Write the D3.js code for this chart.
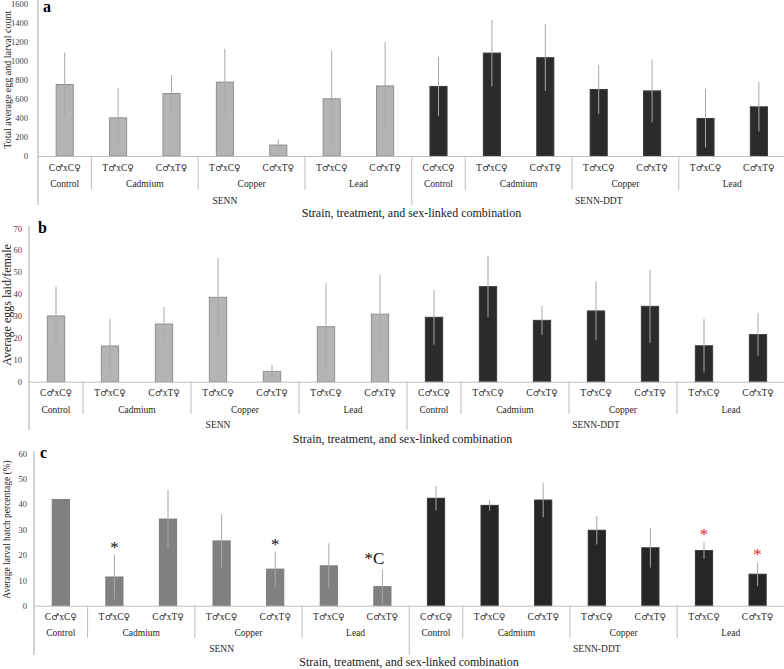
<!DOCTYPE html>
<html><head><meta charset="utf-8">
<script src="https://cdn.jsdelivr.net/npm/d3@7/dist/d3.min.js"></script>
<style>body{margin:0;background:#fff}svg{display:block}</style>
</head><body><svg id="chart" width="784" height="669"></svg>
<script>
// ---- data ----
const crosses = ["C♂xC♀","T♂xC♀","C♂xT♀","T♂xC♀","C♂xT♀","T♂xC♀","C♂xT♀",
                 "C♂xC♀","T♂xC♀","C♂xT♀","T♂xC♀","C♂xT♀","T♂xC♀","C♂xT♀"];
const treatments = ["Control","Cadmium","Copper","Lead","Control","Cadmium","Copper","Lead"];
const treatmentSizes = [1,2,2,2,1,2,2,2];
const strains = ["SENN","SENN-DDT"];
const strainSizes = [7,7];
const countMeans = [750,400,655,775,115,600,735,730,1080,1032,698,683,394,516];
const countErrs  = [335,310,195,350,60,505,460,310,350,350,255,330,305,260];
const countTicks = [0,200,400,600,800,1000,1200,1400,1600];
const eggMeans = [30.0,16.3,26.3,38.5,4.7,25.1,30.8,29.4,43.4,28.0,32.3,34.4,16.4,21.5];
const eggErrs  = [13.4,12.5,7.8,18.0,2.9,20.0,18.0,12.5,14.0,6.6,13.4,16.6,12.2,9.7];
const eggTicks = [0,10,20,30,40,50,60,70];
const hatchMeans = [41.8,11.3,34.1,25.5,14.4,15.7,7.5,42.3,39.5,41.6,29.7,22.8,21.7,12.4];
const hatchErrs  = [0.3,8.8,11.7,10.6,6.9,8.9,6.6,4.8,2.1,6.8,5.6,7.8,3.3,4.7];
const hatchTicks = [0,10,20,30,40,50,60];
const hatchMarks = ["","*","","","*","","*C","","","","","","*","*"];
const hatchMarkRed = [false,false,false,false,false,false,false,false,false,false,false,false,true,true];
const xTitle = "Strain, treatment, and sex-linked combination";

// ---- layout ----
const FONT = "'Liberation Serif','Times New Roman',serif";
const SYMFONT = "'DejaVu Serif','DejaVu Sans',serif";
const panels = [
  {letter:"a", means:countMeans, errs:countErrs, ticks:countTicks, marks:null,
   yTitle:"Total average egg and larval count", yTitleSize:10,
   left:38, band:53.4, top:3.5, base:156, tickGap:10, yTitleX:7,
   letterX:43, letterY:12, catY:168, treatY:184, strainY:201, titleY:213, titleX:411.5,
   grpBottom:190, axisBottom:205, axisTop:0,
   fills:["#b4b4b4","#2b2b2b"], strokes:["#8e8e8e","#3c3c3c"]},
  {letter:"b", means:eggMeans, errs:eggErrs, ticks:eggTicks, marks:null,
   yTitle:"Average eggs laid/female", yTitleSize:12,
   left:29, band:54, top:228.3, base:381.7, tickGap:7, yTitleX:6.5,
   letterX:38, letterY:233, catY:392.7, treatY:409.3, strainY:425, titleY:439, titleX:402.5,
   grpBottom:414, axisBottom:430, axisTop:226,
   fills:["#b4b4b4","#2b2b2b"], strokes:["#8e8e8e","#3c3c3c"]},
  {letter:"c", means:hatchMeans, errs:hatchErrs, ticks:hatchTicks, marks:hatchMarks,
   yTitle:"Average larval hatch percentage (%)", yTitleSize:9.5,
   left:34, band:53.6, top:453.3, base:605.7, tickGap:7, yTitleX:7,
   letterX:40, letterY:458, catY:616.7, treatY:633, strainY:649, titleY:661.7, titleX:409,
   grpBottom:638, axisBottom:655, axisTop:451,
   fills:["#808080","#262626"], strokes:["#7a7a7a","#333333"]}
];

const svg = d3.select("#chart");
const n = crosses.length;
const strainIndex = i => i < strainSizes[0] ? 0 : 1;

panels.forEach(p => {
  const g = svg.append("g");
  const x = d3.scaleBand().domain(d3.range(n))
    .range([p.left, p.left + n * p.band]).paddingInner(0.68).paddingOuter(0.34);
  const y = d3.scaleLinear().domain([0, d3.max(p.ticks)]).range([p.base, p.top]);
  const edge = i => x.range()[0] + i * x.step();

  // y axis labels
  const ya = g.append("g").attr("transform", `translate(${p.left},0)`)
    .call(d3.axisLeft(y).tickValues(p.ticks).tickSize(0).tickPadding(p.tickGap).tickFormat(d3.format("d")));
  ya.select(".domain").remove();
  ya.selectAll("text").attr("font-family", FONT).attr("font-size", 8.5).attr("fill", "#404040");

  // left vertical axis line
  g.append("line").attr("x1", p.left).attr("x2", p.left)
    .attr("y1", p.axisTop).attr("y2", p.axisBottom).attr("stroke", "#a6a6a6").attr("stroke-width", 1);

  // bars
  g.append("g").selectAll("rect").data(p.means).join("rect")
    .attr("x", (d,i) => x(i)).attr("width", x.bandwidth())
    .attr("y", d => y(d)).attr("height", d => y(0) - y(d))
    .attr("fill", (d,i) => p.fills[strainIndex(i)])
    .attr("stroke", (d,i) => p.strokes[strainIndex(i)]).attr("stroke-width", 1);

  // error bars
  g.append("g").selectAll("line").data(p.means).join("line")
    .attr("x1", (d,i) => x(i) + x.bandwidth()/2).attr("x2", (d,i) => x(i) + x.bandwidth()/2)
    .attr("y1", (d,i) => y(Math.max(0, d - p.errs[i]))).attr("y2", (d,i) => y(d + p.errs[i]))
    .attr("stroke", "#a8a8a8").attr("stroke-width", 1);

  // category axis (crosses)
  const catFs = 9.5;
  const xa = g.append("g").attr("transform", `translate(0,${p.base})`)
    .call(d3.axisBottom(x).tickSize(0).tickSizeOuter(0).tickFormat(i => crosses[i]));
  xa.select(".domain").attr("stroke", "#c0c0c0").attr("stroke-width", 1)
    .attr("d", `M${p.left},0.5H${p.left + n * p.band}`);
  xa.selectAll("text").attr("font-family", FONT).attr("font-size", catFs).attr("fill", "#262626")
    .attr("y", p.catY - p.base).attr("dy", "0.35em")
    .each(function() {
      const t = d3.select(this), s = t.text();
      t.text(null);
      for (const ch of s) {
        const sym = ch === "♂" || ch === "♀";
        t.append("tspan").attr("font-family", sym ? SYMFONT : FONT)
          .attr("font-size", sym ? catFs * 0.95 : catFs).text(ch);
      }
    });

  // treatment labels and separators
  let start = 0;
  treatments.forEach((t, k) => {
    const s = start, e = start + treatmentSizes[k];
    g.append("text").attr("x", (edge(s) + edge(e)) / 2).attr("y", p.treatY).attr("dy", "0.35em")
      .attr("text-anchor", "middle").attr("font-family", FONT).attr("font-size", catFs).attr("fill", "#262626")
      .text(t);
    if (s > 0 && s !== strainSizes[0]) {
      g.append("line").attr("x1", edge(s)).attr("x2", edge(s)).attr("y1", p.base).attr("y2", p.grpBottom)
        .attr("stroke", "#bdbdbd").attr("stroke-width", 1);
    }
    start = e;
  });
  // strain labels and separator
  start = 0;
  strains.forEach((s, k) => {
    const e = start + strainSizes[k];
    g.append("text").attr("x", (edge(start) + edge(e)) / 2).attr("y", p.strainY).attr("dy", "0.35em")
      .attr("text-anchor", "middle").attr("font-family", FONT).attr("font-size", catFs).attr("fill", "#262626")
      .text(s);
    if (start > 0) {
      g.append("line").attr("x1", edge(start)).attr("x2", edge(start)).attr("y1", p.base).attr("y2", p.axisBottom)
        .attr("stroke", "#bdbdbd").attr("stroke-width", 1);
    }
    start = e;
  });

  // x title
  g.append("text").attr("x", p.titleX).attr("y", p.titleY).attr("dy", "0.35em")
    .attr("text-anchor", "middle").attr("font-family", FONT).attr("font-size", 12).attr("fill", "#1a1a1a")
    .text(xTitle);

  // y title
  g.append("text").attr("transform", `translate(${p.yTitleX},${(p.top + p.base) / 2}) rotate(-90)`)
    .attr("dy", "0.35em").attr("text-anchor", "middle").attr("font-family", FONT)
    .attr("font-size", p.yTitleSize).attr("fill", "#1a1a1a").text(p.yTitle);

  // panel letter
  g.append("text").attr("x", p.letterX).attr("y", p.letterY).attr("font-family", FONT)
    .attr("font-weight", "bold").attr("font-size", 16).attr("fill", "#000").text(p.letter);

  // significance marks
  if (p.marks) {
    p.marks.forEach((m, i) => {
      if (!m) return;
      const cx = x(i) + x.bandwidth() / 2;
      const top = y(p.means[i] + p.errs[i]);
      g.append("text")
        .attr("x", m.length > 1 ? cx + 2 : cx)
        .attr("y", top - (m.length > 1 ? 6 : 2))
        .attr("text-anchor", m.length > 1 ? "end" : "middle")
        .attr("font-family", FONT).attr("font-size", 17)
        .attr("fill", hatchMarkRed[i] ? "#e5282c" : "#111").text(m);
    });
  }
});
</script></body></html>
